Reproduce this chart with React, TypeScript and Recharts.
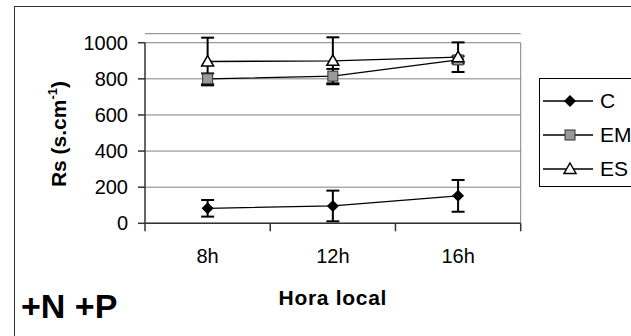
import {
  LineChart,
  Line,
  XAxis,
  YAxis,
  CartesianGrid,
  ErrorBar,
  ReferenceLine,
  Legend,
} from "recharts";

const FONT = '"Liberation Sans", Arial, sans-serif';

const categories = ["8h", "12h", "16h"];
const seriesNames = ["C", "EM", "ES"];

const cValues = [83, 96, 152];
const cErrors = [46, 85, 88];
const emValues = [800, 815, 905];
const emErrors = [30, 40, 20];
const esValues = [896, 900, 920];
const esErrors = [132, 130, 82];

const yTicks = [0, 200, 400, 600, 800, 1000];
const xTicks = [0, 0.5, 1, 1.5, 2, 2.5, 3];

const data = categories.map((hora, i) => ({
  pos: i + 0.5,
  hora,
  c: cValues[i],
  cErr: cErrors[i],
  em: emValues[i],
  emErr: emErrors[i],
  es: esValues[i],
  esErr: esErrors[i],
}));

// markers
const diamond = (cx: number, cy: number, key?: string) => (
  <path
    key={key}
    d={`M${cx},${cy - 6} L${cx + 6},${cy} L${cx},${cy + 6} L${cx - 6},${cy} Z`}
    fill="#000"
  />
);

const square = (cx: number, cy: number, key?: string) => (
  <rect key={key} x={cx - 5} y={cy - 5} width={10} height={10} fill="#999" stroke="#333" strokeWidth={1} />
);

const triangle = (cx: number, cy: number, key?: string) => (
  <path
    key={key}
    d={`M${cx},${cy - 6} L${cx + 6},${cy + 4.5} L${cx - 6},${cy + 4.5} Z`}
    fill="#fff"
    stroke="#000"
    strokeWidth={1.5}
  />
);

const markers = [diamond, square, triangle];

const HourTick = (props: any) => {
  const { x, y, payload } = props;
  const v = payload.value;
  if (Number.isInteger(v)) {
    return <line x1={x} x2={x} y1={y} y2={y + 8} stroke="#333" strokeWidth={1.5} />;
  }
  return (
    <text x={x} y={y + 40} textAnchor="middle" fontSize={20} fill="#000" fontFamily={FONT}>
      {categories[Math.floor(v)]}
    </text>
  );
};

const YTitle = (props: any) => {
  const { viewBox } = props;
  const x = viewBox.x + 66;
  const y = viewBox.y + viewBox.height / 2 + 5.5;
  return (
    <text
      x={x}
      y={y}
      transform={`rotate(-90, ${x}, ${y})`}
      textAnchor="middle"
      fontSize={21}
      fontWeight="bold"
      fill="#000"
      fontFamily={FONT}
    >
      Rs (s.cm
      <tspan fontSize={13} dy={-9}>-1</tspan>
      <tspan dy={9}>)</tspan>
    </text>
  );
};

const XTitle = (props: any) => {
  const { viewBox } = props;
  return (
    <text
      x={viewBox.x + viewBox.width / 2}
      y={viewBox.y + 82}
      textAnchor="middle"
      fontSize={21}
      fontWeight="bold"
      letterSpacing={0.7}
      fill="#000"
      fontFamily={FONT}
    >
      Hora local
    </text>
  );
};

const LegendBox = () => (
  <div
    style={{
      width: 130,
      height: 109,
      boxSizing: "border-box",
      border: "1px solid #000",
      background: "#fff",
      paddingTop: 5,
      fontFamily: FONT,
    }}
  >
    {seriesNames.map((name, i) => (
      <div key={name} style={{ display: "flex", alignItems: "center", height: 34 }}>
        <svg width={60} height={34} style={{ flex: "none" }}>
          <line x1={3} x2={53} y1={17} y2={17} stroke="#000" strokeWidth={1.5} />
          {markers[i](30, 17)}
        </svg>
        <span style={{ fontSize: 21, color: "#000", whiteSpace: "nowrap" }}>{name}</span>
      </div>
    ))}
  </div>
);

export default function App() {
  return (
    <div
      style={{
        position: "absolute",
        left: 0,
        top: 0,
        width: 631,
        height: 336,
        overflow: "hidden",
        background: "#fff",
        fontFamily: FONT,
      }}
    >
      {/* outer frame, cut off on the right and bottom */}
      <div
        style={{
          position: "absolute",
          left: 13.5,
          top: 5.5,
          width: 700,
          height: 400,
          border: "1.5px solid #333",
        }}
      />

      <div style={{ position: "absolute", left: 0, top: 0 }}>
        <LineChart
          width={631}
          height={336}
          data={data}
          margin={{ top: 33.7, right: 110.3, bottom: 52.7, left: 0 }}
        >
          <CartesianGrid horizontal vertical={false} stroke="#808080" strokeWidth={1} />
          <XAxis
            type="number"
            dataKey="pos"
            domain={[0, 3]}
            ticks={xTicks}
            interval={0}
            allowDataOverflow
            tickLine={false}
            tickSize={0}
            tickMargin={0}
            axisLine={{ stroke: "#333", strokeWidth: 1.5 }}
            tick={HourTick}
            height={60}
            label={<XTitle />}
          />
          <YAxis
            type="number"
            domain={[0, 1050]}
            allowDataOverflow
            ticks={yTicks}
            interval={0}
            width={145}
            axisLine={false}
            tickLine={{ stroke: "#333", strokeWidth: 1.5 }}
            tickSize={7}
            tickMargin={10}
            tick={{ fontSize: 20, fill: "#000", fontFamily: FONT }}
            label={<YTitle />}
          />
          <ReferenceLine
            segment={[{ x: 0, y: 0 }, { x: 0, y: 1000 }]}
            stroke="#333"
            strokeWidth={1.5}
          />
          <ReferenceLine
            segment={[{ x: 3, y: 0 }, { x: 3, y: 1000 }]}
            stroke="#808080"
            strokeWidth={1}
          />
          <Line
            dataKey="c"
            name="C"
            type="linear"
            stroke="#000"
            strokeWidth={1.3}
            isAnimationActive={false}
            dot={(p: any) => diamond(p.cx, p.cy, `c-${p.index}`)}
            activeDot={false}
          >
            <ErrorBar dataKey="cErr" width={6.5} stroke="#000" strokeWidth={2} direction="y" />
          </Line>
          <Line
            dataKey="em"
            name="EM"
            type="linear"
            stroke="#000"
            strokeWidth={1.3}
            isAnimationActive={false}
            dot={(p: any) => square(p.cx, p.cy, `em-${p.index}`)}
            activeDot={false}
          >
            <ErrorBar dataKey="emErr" width={6.5} stroke="#000" strokeWidth={2} direction="y" />
          </Line>
          <Line
            dataKey="es"
            name="ES"
            type="linear"
            stroke="#000"
            strokeWidth={1.3}
            isAnimationActive={false}
            dot={(p: any) => triangle(p.cx, p.cy, `es-${p.index}`)}
            activeDot={false}
          >
            <ErrorBar dataKey="esErr" width={6.5} stroke="#000" strokeWidth={2} direction="y" />
          </Line>
          <Legend
            content={<LegendBox />}
            layout="horizontal"
            verticalAlign="middle"
            align="center"
            wrapperStyle={{ left: 539, top: 78, width: 130 }}
          />
        </LineChart>
      </div>

      <div
        style={{
          position: "absolute",
          left: 21,
          top: 289,
          fontSize: 34,
          lineHeight: "34px",
          fontWeight: "bold",
          color: "#000",
          whiteSpace: "nowrap",
        }}
      >
        +N +P
      </div>
    </div>
  );
}
